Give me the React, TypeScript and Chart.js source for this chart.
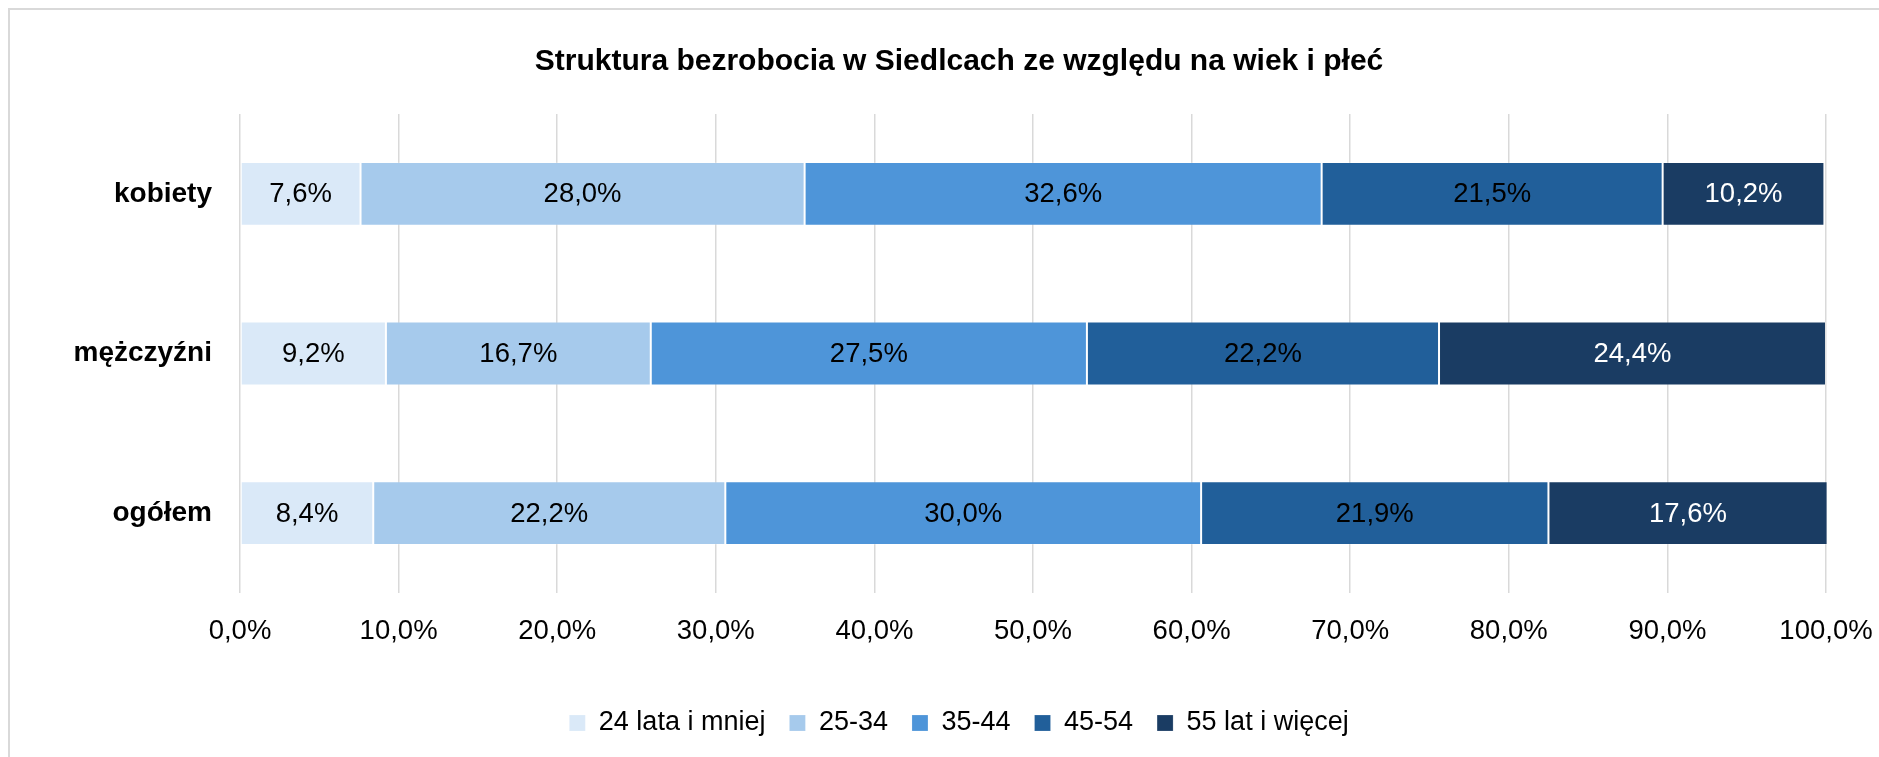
import React, { useEffect, useRef } from "react";
import { Chart, registerables } from "chart.js";

Chart.register(...registerables);

const categories = ["kobiety", "mężczyźni", "ogółem"];
const seriesNames = ["24 lata i mniej", "25-34", "35-44", "45-54", "55 lat i więcej"];
const age24 = [7.6, 9.2, 8.4];
const age25_34 = [28.0, 16.7, 22.2];
const age35_44 = [32.6, 27.5, 30.0];
const age45_54 = [21.5, 22.2, 21.9];
const age55 = [10.2, 24.4, 17.6];
const seriesValues = [age24, age25_34, age35_44, age45_54, age55];
const seriesColors = ["#DAE9F8", "#A6CAEC", "#4E95D9", "#215F9A", "#1A3C63"];
const labelColors = ["#000000", "#000000", "#000000", "#000000", "#FFFFFF"];
const titleText = "Struktura bezrobocia w Siedlcach ze względu na wiek i płeć";
const xTicksMin = 0;
const xTicksMax = 100;
const xTicksStep = 10;

const FONT = "'Liberation Sans', Arial, sans-serif";

const fmt = (v: number) => v.toFixed(1).replace(".", ",") + "%";

const valueLabels = {
  id: "valueLabels",
  afterDatasetsDraw(chart: any) {
    const ctx = chart.ctx;
    chart.data.datasets.forEach((ds: any, i: number) => {
      const meta = chart.getDatasetMeta(i);
      meta.data.forEach((bar: any, j: number) => {
        const v = ds.data[j];
        const p = bar.getProps(["x", "base", "y"], true);
        ctx.save();
        ctx.font = `27.5px ${FONT}`;
        ctx.fillStyle = labelColors[i];
        ctx.textAlign = "center";
        ctx.textBaseline = "middle";
        ctx.fillText(fmt(v), (p.x + p.base) / 2, p.y + 1);
        ctx.restore();
      });
    });
  },
};

const boxTweaks = {
  id: "boxTweaks",
  beforeLayout(chart: any) {
    const lg = chart.legend;
    if (lg && !lg.__patched) {
      const orig = lg.fit;
      lg.fit = function () {
        orig.call(this);
        this.height = 71.5;
      };
      lg.__patched = true;
    }
  },
  afterLayout(chart: any) {
    if (chart.titleBlock) chart.titleBlock.left = 92;
    if (chart.legend) chart.legend.left = 92;
  },
};

export default function App() {
  const ref = useRef<HTMLCanvasElement | null>(null);

  useEffect(() => {
    if (!ref.current) return;
    const chart = new Chart(ref.current, {
      type: "bar",
      data: {
        labels: categories,
        datasets: seriesValues.map((vals, i) => ({
          label: seriesNames[i],
          data: vals,
          backgroundColor: seriesColors[i],
          borderColor: "rgba(255,255,255,0.18)",
          borderWidth: 1,
          borderSkipped: false,
          barPercentage: 0.4,
          categoryPercentage: 1,
          clip: false,
        })),
      },
      options: {
        indexAxis: "y",
        animation: false,
        responsive: false,
        devicePixelRatio: 1,
        layout: { padding: { left: 0, right: 53, top: 0, bottom: 0 } },
        scales: {
          x: {
            stacked: true,
            min: xTicksMin,
            max: xTicksMax,
            ticks: {
              stepSize: xTicksStep,
              padding: 0,
              color: "#000000",
              font: { family: FONT, size: 27.5 },
              maxRotation: 0,
              callback: (v: any) => fmt(Number(v)),
            },
            grid: {
              color: "#D9D9D9",
              lineWidth: 1.5,
              drawTicks: true,
              tickLength: 22,
              tickColor: "rgba(0,0,0,0)",
            },
            border: { display: false },
            afterFit: (s: any) => {
              s.height = 92.5;
            },
          },
          y: {
            stacked: true,
            ticks: {
              padding: 28,
              color: "#000000",
              font: { family: FONT, size: 28, weight: "bold" },
            },
            grid: { display: false, drawTicks: false },
            border: { display: false },
            afterFit: (s: any) => {
              s.width = 240;
            },
          },
        },
        plugins: {
          title: {
            display: true,
            text: titleText,
            color: "#000000",
            font: { family: FONT, size: 30, weight: "bold" },
            padding: { top: 44, bottom: 34 },
          },
          legend: {
            position: "bottom",
            labels: {
              boxWidth: 16,
              boxHeight: 16,
              padding: 24,
              color: "#000000",
              font: { family: FONT, size: 27 },
            },
          },
          tooltip: { enabled: false },
        },
      },
      plugins: [valueLabels, boxTweaks],
    } as any);
    return () => chart.destroy();
  }, []);

  return (
    <div
      style={{
        position: "absolute",
        left: 0,
        top: 0,
        width: 1879,
        height: 757,
        overflow: "hidden",
        background: "#FFFFFF",
      }}
    >
      <div
        style={{
          position: "absolute",
          left: 8,
          top: 8,
          width: 1900,
          height: 800,
          borderLeft: "2px solid #D9D9D9",
          borderTop: "2px solid #D9D9D9",
        }}
      />
      <canvas
        ref={ref}
        width={1879}
        height={757}
        style={{ position: "absolute", left: 0, top: 0, width: 1879, height: 757 }}
      />
    </div>
  );
}
